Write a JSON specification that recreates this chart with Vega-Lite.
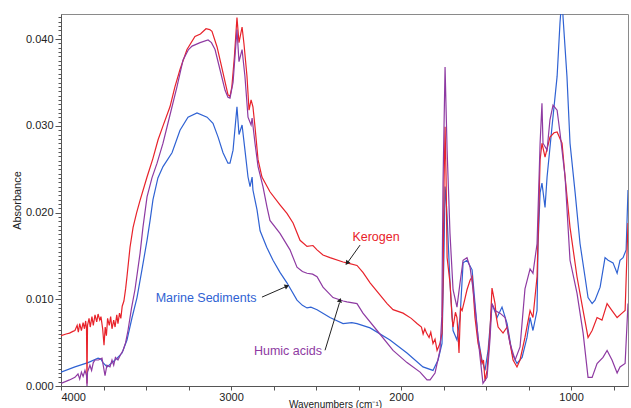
{
  "$schema": "https://vega.github.io/schema/vega-lite/v6.json",
  "width": 567,
  "height": 372,
  "autosize": "none",
  "padding": {"left": 61, "top": 14, "right": 3, "bottom": 22},
  "background": "white",
  "config": {
    "font": "Liberation Sans",
    "view": {"stroke": "#8a8a8a", "strokeWidth": 1}
  },
  "datasets": {
    "Kerogen": [[4000,0.0058],[3970,0.0060],[3950,0.0061],[3930,0.0063],[3918,0.0064],[3905,0.0070],[3898,0.0062],[3890,0.0072],[3880,0.0064],[3870,0.0073],[3862,0.0066],[3855,0.0075],[3850,0.0066],[3847,0.0003],[3844,0.0070],[3835,0.0078],[3828,0.0068],[3818,0.0080],[3810,0.0070],[3800,0.0082],[3790,0.0074],[3782,0.0083],[3772,0.0076],[3765,0.0080],[3755,0.0066],[3747,0.0047],[3740,0.0068],[3733,0.0058],[3726,0.0078],[3716,0.0070],[3708,0.0080],[3700,0.0066],[3690,0.0076],[3682,0.0068],[3672,0.0082],[3665,0.0072],[3656,0.0084],[3648,0.0078],[3640,0.0092],[3630,0.0098],[3620,0.0112],[3612,0.0126],[3594,0.0160],[3576,0.0183],[3555,0.0200],[3535,0.0214],[3494,0.0241],[3460,0.0262],[3429,0.0284],[3400,0.0300],[3359,0.0322],[3330,0.0345],[3300,0.0365],[3259,0.0388],[3212,0.0403],[3180,0.0406],[3147,0.0412],[3125,0.0411],[3112,0.0409],[3082,0.0391],[3047,0.0361],[3018,0.0336],[3006,0.0334],[2995,0.0345],[2980,0.0380],[2965,0.0425],[2953,0.0396],[2935,0.0414],[2924,0.0395],[2906,0.0357],[2894,0.0318],[2882,0.0330],[2871,0.0322],[2859,0.0299],[2841,0.0261],[2818,0.0241],[2771,0.0224],[2712,0.0209],[2671,0.0199],[2635,0.0188],[2594,0.0168],[2553,0.0161],[2518,0.0162],[2494,0.0157],[2459,0.0151],[2418,0.0148],[2341,0.0143],[2318,0.0142],[2259,0.0139],[2224,0.0131],[2182,0.0119],[2082,0.0095],[2047,0.0088],[1988,0.0084],[1940,0.0078],[1906,0.0072],[1880,0.0068],[1870,0.0060],[1860,0.0066],[1850,0.0061],[1835,0.0056],[1825,0.0062],[1812,0.0049],[1800,0.0054],[1788,0.0041],[1771,0.0049],[1759,0.0061],[1753,0.0119],[1747,0.0234],[1741,0.0299],[1735,0.0240],[1729,0.0148],[1712,0.0119],[1700,0.0079],[1694,0.0068],[1680,0.0085],[1671,0.0079],[1665,0.0061],[1659,0.0038],[1650,0.0090],[1641,0.0087],[1625,0.0100],[1612,0.0111],[1594,0.0122],[1582,0.0126],[1576,0.0111],[1565,0.0079],[1547,0.0049],[1535,0.0040],[1524,0.0026],[1515,0.0030],[1506,0.0006],[1494,0.0018],[1477,0.0061],[1465,0.0113],[1447,0.0095],[1440,0.0080],[1429,0.0068],[1400,0.0061],[1376,0.0068],[1341,0.0030],[1318,0.0022],[1300,0.0030],[1271,0.0056],[1241,0.0087],[1224,0.0079],[1200,0.0126],[1182,0.0261],[1171,0.0280],[1153,0.0264],[1124,0.0287],[1100,0.0292],[1082,0.0293],[1053,0.0280],[1035,0.0241],[1006,0.0183],[965,0.0126],[929,0.0087],[900,0.0056],[876,0.0064],[847,0.0079],[818,0.0076],[788,0.0095],[759,0.0087],[729,0.0079],[700,0.0084],[682,0.0087],[665,0.0188]],
    "Marine": [[4000,0.0016],[3918,0.0022],[3841,0.0027],[3782,0.0032],[3765,0.0031],[3753,0.0027],[3729,0.0022],[3700,0.0027],[3670,0.0032],[3641,0.0038],[3612,0.0053],[3582,0.0079],[3553,0.0102],[3524,0.0134],[3494,0.0168],[3476,0.0191],[3459,0.0215],[3430,0.0240],[3400,0.0253],[3347,0.0269],[3300,0.0295],[3253,0.0310],[3200,0.0315],[3141,0.0310],[3106,0.0303],[3076,0.0287],[3047,0.0269],[3018,0.0257],[3006,0.0257],[2988,0.0272],[2965,0.0322],[2953,0.0290],[2935,0.0301],[2918,0.0272],[2900,0.0241],[2888,0.0230],[2876,0.0241],[2871,0.0226],[2847,0.0203],[2829,0.0179],[2790,0.0160],[2753,0.0145],[2712,0.0131],[2671,0.0119],[2612,0.0099],[2580,0.0093],[2553,0.0090],[2530,0.0091],[2494,0.0088],[2418,0.0079],[2341,0.0072],[2290,0.0073],[2259,0.0072],[2182,0.0067],[2065,0.0053],[1965,0.0038],[1871,0.0022],[1812,0.0018],[1782,0.0030],[1759,0.0049],[1747,0.0157],[1741,0.0230],[1735,0.0215],[1729,0.0195],[1712,0.0119],[1694,0.0064],[1671,0.0053],[1653,0.0079],[1635,0.0142],[1612,0.0145],[1582,0.0134],[1565,0.0095],[1547,0.0056],[1524,0.0030],[1506,0.0018],[1488,0.0041],[1465,0.0095],[1435,0.0079],[1406,0.0091],[1376,0.0072],[1347,0.0038],[1318,0.0026],[1288,0.0033],[1259,0.0056],[1241,0.0079],[1224,0.0064],[1200,0.0087],[1194,0.0164],[1182,0.0223],[1171,0.0234],[1153,0.0206],[1141,0.0241],[1112,0.0299],[1082,0.0357],[1065,0.0419],[1053,0.0450],[1047,0.0425],[1024,0.0357],[1006,0.0280],[976,0.0223],[947,0.0164],[918,0.0126],[900,0.0102],[876,0.0095],[859,0.0099],[829,0.0114],[800,0.0148],[782,0.0145],[753,0.0142],[729,0.0130],[712,0.0145],[694,0.0148],[676,0.0157],[665,0.0226]],
    "Humic": [[4000,0.0003],[3950,0.0007],[3918,0.0010],[3900,0.0014],[3890,0.0008],[3880,0.0016],[3870,0.0011],[3859,0.0018],[3850,0.0012],[3847,0.0000],[3844,0.0016],[3830,0.0024],[3820,0.0018],[3810,0.0027],[3800,0.0030],[3780,0.0030],[3759,0.0032],[3741,0.0012],[3730,0.0024],[3712,0.0022],[3700,0.0030],[3690,0.0024],[3680,0.0033],[3665,0.0030],[3650,0.0036],[3635,0.0041],[3620,0.0050],[3606,0.0064],[3585,0.0090],[3565,0.0111],[3535,0.0153],[3518,0.0183],[3494,0.0218],[3465,0.0240],[3435,0.0257],[3400,0.0280],[3371,0.0303],[3318,0.0345],[3282,0.0376],[3250,0.0388],[3229,0.0392],[3182,0.0396],[3135,0.0399],[3115,0.0396],[3094,0.0388],[3065,0.0365],[3035,0.0341],[3018,0.0333],[3006,0.0332],[2988,0.0350],[2965,0.0411],[2953,0.0374],[2935,0.0388],[2918,0.0357],[2900,0.0310],[2882,0.0301],[2876,0.0309],[2859,0.0280],[2841,0.0253],[2812,0.0230],[2788,0.0206],[2771,0.0191],[2712,0.0176],[2653,0.0157],[2612,0.0137],[2580,0.0132],[2553,0.0130],[2520,0.0129],[2494,0.0126],[2459,0.0114],[2400,0.0102],[2340,0.0098],[2318,0.0097],[2259,0.0095],[2224,0.0084],[2141,0.0064],[2047,0.0041],[1965,0.0027],[1888,0.0016],[1847,0.0007],[1829,0.0007],[1800,0.0015],[1771,0.0041],[1760,0.0080],[1753,0.0234],[1741,0.0368],[1729,0.0272],[1712,0.0176],[1694,0.0111],[1671,0.0091],[1653,0.0119],[1635,0.0145],[1612,0.0148],[1594,0.0137],[1576,0.0111],[1553,0.0068],[1535,0.0033],[1518,0.0003],[1494,0.0010],[1477,0.0053],[1465,0.0095],[1447,0.0087],[1418,0.0084],[1388,0.0079],[1359,0.0049],[1329,0.0030],[1300,0.0045],[1271,0.0112],[1241,0.0135],[1224,0.0130],[1200,0.0164],[1182,0.0280],[1171,0.0326],[1165,0.0280],[1141,0.0272],[1124,0.0307],[1106,0.0324],[1082,0.0318],[1065,0.0292],[1035,0.0241],[1006,0.0145],[965,0.0107],[929,0.0061],[900,0.0010],[876,0.0010],[847,0.0026],[812,0.0033],[788,0.0041],[759,0.0030],[729,0.0015],[712,0.0022],[682,0.0026],[665,0.0095]]
  },
  "layer": [
    {
      "data": {"name": "Marine"},
      "transform": [{"calculate": "datum[0]", "as": "wn"}, {"calculate": "datum[1]", "as": "a"}],
      "mark": {"type": "line", "color": "#2f62d3", "strokeWidth": 1.2, "clip": true},
      "encoding": {
        "x": {"field": "wn", "type": "quantitative", "scale": {"domain": [4000, 665], "nice": false, "zero": false},
          "axis": {"title": "Wavenumbers (cm⁻¹)", "values": [4000,3750,3500,3250,3000,2750,2500,2250,2000,1750,1500,1250,1000,750],
            "tickCount": 100,
            "labelExpr": "datum.value % 1000 == 0 ? datum.value : ''", "labelFlush": true, "labelOverlap": false,
            "tickSize": 4, "labelPadding": 1, "labelFontSize": 11, "labelColor": "#222", "domainColor": "#555", "tickColor": "#555",
            "grid": false, "titleFontWeight": "normal", "titleFontSize": 10, "titleColor": "#222", "titleX": 274, "titleAlign": "center", "titleY": 21, "titleBaseline": "alphabetic"}},
        "y": {"field": "a", "type": "quantitative", "scale": {"domain": [0, 0.0429], "nice": false},
          "axis": {"title": "Absorbance", "values": [0,0.0005,0.001,0.0015,0.002,0.0025,0.003,0.0035,0.004,0.0045,0.005,0.0055,0.006,0.0065,0.007,0.0075,0.008,0.0085,0.009,0.0095,0.01,0.0105,0.011,0.0115,0.012,0.0125,0.013,0.0135,0.014,0.0145,0.015,0.0155,0.016,0.0165,0.017,0.0175,0.018,0.0185,0.019,0.0195,0.02,0.0205,0.021,0.0215,0.022,0.0225,0.023,0.0235,0.024,0.0245,0.025,0.0255,0.026,0.0265,0.027,0.0275,0.028,0.0285,0.029,0.0295,0.03,0.0305,0.031,0.0315,0.032,0.0325,0.033,0.0335,0.034,0.0345,0.035,0.0355,0.036,0.0365,0.037,0.0375,0.038,0.0385,0.039,0.0395,0.04,0.0405,0.041,0.0415,0.042,0.0425],
            "tickCount": 1000,
            "labelExpr": "abs(datum.value*100 - round(datum.value*100)) < 0.001 ? format(datum.value, '.3f') : ''",
            "tickSize": {"condition": {"test": "abs(datum.value*100 - round(datum.value*100)) < 0.001", "value": 6}, "value": 3},
            "labelOverlap": false, "labelPadding": 2, "labelFontSize": 11, "labelColor": "#222", "domainColor": "#555", "tickColor": "#555",
            "grid": false, "titleFontWeight": "normal", "titleFontSize": 11, "titleColor": "#222", "titleX": -44, "titleBaseline": "middle"}}
      }
    },
    {
      "data": {"name": "Kerogen"},
      "transform": [{"calculate": "datum[0]", "as": "wn"}, {"calculate": "datum[1]", "as": "a"}],
      "mark": {"type": "line", "color": "#e8222a", "strokeWidth": 1.2, "clip": true},
      "encoding": {"x": {"field": "wn", "type": "quantitative"}, "y": {"field": "a", "type": "quantitative"}}
    },
    {
      "data": {"name": "Humic"},
      "transform": [{"calculate": "datum[0]", "as": "wn"}, {"calculate": "datum[1]", "as": "a"}],
      "mark": {"type": "line", "color": "#8e3aa2", "strokeWidth": 1.2, "clip": true},
      "encoding": {"x": {"field": "wn", "type": "quantitative"}, "y": {"field": "a", "type": "quantitative"}}
    },
    {
      "data": {"values": [
        {"wn": 2241, "a": 0.01625, "wn2": 2312, "a2": 0.01430},
        {"wn": 2818, "a": 0.01025, "wn2": 2678, "a2": 0.01145},
        {"wn": 2447, "a": 0.00412, "wn2": 2362, "a2": 0.00960}
      ]},
      "mark": {"type": "rule", "color": "#222", "strokeWidth": 1},
      "encoding": {
        "x": {"field": "wn", "type": "quantitative"}, "x2": {"field": "wn2"},
        "y": {"field": "a", "type": "quantitative"}, "y2": {"field": "a2"}
      }
    },
    {
      "data": {"values": [{"wn": 2318, "a": 0.01417}]},
      "mark": {"type": "point", "shape": "triangle-up", "filled": true, "color": "#222", "size": 28, "angle": 216, "opacity": 1},
      "encoding": {"x": {"field": "wn", "type": "quantitative"}, "y": {"field": "a", "type": "quantitative"}}
    },
    {
      "data": {"values": [{"wn": 2671, "a": 0.01152}]},
      "mark": {"type": "point", "shape": "triangle-up", "filled": true, "color": "#222", "size": 28, "angle": 66, "opacity": 1},
      "encoding": {"x": {"field": "wn", "type": "quantitative"}, "y": {"field": "a", "type": "quantitative"}}
    },
    {
      "data": {"values": [{"wn": 2359, "a": 0.0099}]},
      "mark": {"type": "point", "shape": "triangle-up", "filled": true, "color": "#222", "size": 28, "angle": 17, "opacity": 1},
      "encoding": {"x": {"field": "wn", "type": "quantitative"}, "y": {"field": "a", "type": "quantitative"}}
    },
    {
      "data": {"values": [
        {"label": "Kerogen", "s": "Kerogen", "wn": 2147, "a": 0.0172},
        {"label": "Marine Sediments", "s": "Marine Sediments", "wn": 3147, "a": 0.0101},
        {"label": "Humic acids", "s": "Humic acids", "wn": 2665, "a": 0.0040}
      ]},
      "mark": {"type": "text", "fontSize": 12.5, "align": "center", "baseline": "middle"},
      "encoding": {
        "x": {"field": "wn", "type": "quantitative"},
        "y": {"field": "a", "type": "quantitative"},
        "text": {"field": "label"},
        "color": {"field": "s", "type": "nominal", "scale": {"domain": ["Kerogen", "Marine Sediments", "Humic acids"], "range": ["#e8222a", "#2f62d3", "#8e3aa2"]}, "legend": null}
      }
    }
  ]
}
